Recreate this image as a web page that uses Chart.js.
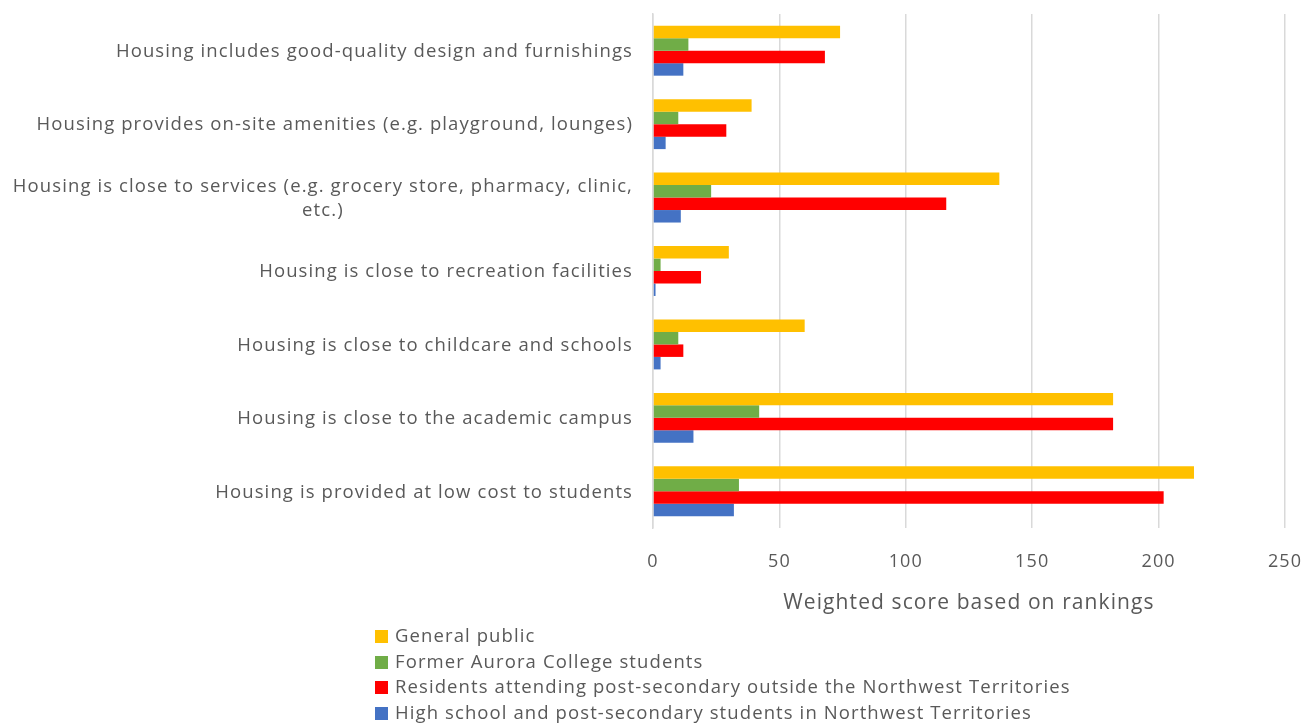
<!DOCTYPE html>
<html>
<head>
<meta charset="utf-8">
<script src="https://cdn.jsdelivr.net/npm/chart.js@4"></script>
<style>
  html, body { margin: 0; padding: 0; background: #fff; }
  #wrap { position: relative; width: 1316px; height: 723px; }
  #legend { position: absolute; left: 375px; top: 622px; font-family: "Open Sans", sans-serif; font-size: 18.5px; letter-spacing: 1.1px; color: #595959; }
  #legend div { height: 25.5px; line-height: 25.5px; white-space: nowrap; }
  #legend span { display: inline-block; width: 13px; height: 13px; margin-right: 7px; vertical-align: -1px; }
</style>
</head>
<body>
<div id="wrap">
  <canvas id="chart" width="1316" height="723"></canvas>
  <div id="legend"></div>
</div>
<script>
// Categories, top to bottom (multi-line labels as arrays)
const categories = [
  'Housing includes good-quality design and furnishings',
  'Housing provides on-site amenities (e.g. playground, lounges)',
  ['Housing is close to services (e.g. grocery store, pharmacy, clinic,', 'etc.)'],
  'Housing is close to recreation facilities',
  'Housing is close to childcare and schools',
  'Housing is close to the academic campus',
  'Housing is provided at low cost to students'
]

const seriesNames = [
  'General public',
  'Former Aurora College students',
  'Residents attending post-secondary outside the Northwest Territories',
  'High school and post-secondary students in Northwest Territories'
]

const generalPublic = [74, 39, 137, 30, 60, 182, 214]
const formerAurora = [14, 10, 23, 3, 10, 42, 34]
const residentsOutside = [68, 29, 116, 19, 12, 182, 202]
const highSchoolNwt = [12, 5, 11, 1, 3, 16, 32]

const xTicks = [0, 50, 100, 150, 200, 250]
const axisTitle = 'Weighted score based on rankings'

const colors = ['#FFC000', '#70AD47', '#FF0000', '#4472C4']
const textColor = '#595959'
const fontFamily = '"Open Sans", sans-serif'

// wider spacing like the original Office text
const spacing = {
  id: 'spacing',
  beforeDraw(chart) { chart.ctx.letterSpacing = '1.1px' }
}

// y labels: block right-aligned at the axis, lines centered inside the block
const categoryLabels = {
  id: 'categoryLabels',
  afterDraw(chart) {
    const { ctx, scales: { y }, chartArea } = chart
    ctx.save()
    ctx.letterSpacing = '1.1px'
    ctx.font = `18.5px ${fontFamily}`
    ctx.fillStyle = textColor
    ctx.textAlign = 'center'
    ctx.textBaseline = 'middle'
    const right = chartArea.left - 20
    const lineH = 24
    categories.forEach((label, i) => {
      const lines = Array.isArray(label) ? label : [label]
      const w = Math.max(...lines.map(l => ctx.measureText(l).width))
      const cx = right - w / 2
      const cy = y.getPixelForValue(i) + 1
      lines.forEach((l, j) => {
        ctx.fillText(l, cx, cy + (j - (lines.length - 1) / 2) * lineH)
      })
    })
    ctx.restore()
  }
}

const data = [generalPublic, formerAurora, residentsOutside, highSchoolNwt]

new Chart(document.getElementById('chart'), {
  type: 'bar',
  data: {
    labels: categories,
    datasets: seriesNames.map((name, i) => ({
      label: name,
      data: data[i],
      backgroundColor: colors[i],
      borderWidth: 0,
      barPercentage: 1,
      categoryPercentage: 0.68
    }))
  },
  options: {
    indexAxis: 'y',
    responsive: false,
    animation: false,
    layout: { padding: { top: 14, right: 31, bottom: 107, left: 0 } },
    plugins: {
      legend: { display: false },
      tooltip: { enabled: false }
    },
    scales: {
      x: {
        min: 0,
        max: 250,
        afterBuildTicks: s => { s.ticks = xTicks.map(v => ({ value: v })) },
        afterFit: s => { s.height = 88; s.paddingRight = 0; s.paddingLeft = 0 },
        grid: { color: '#d9d9d9', lineWidth: 1.5, drawTicks: false },
        border: { display: false },
        ticks: {
          color: textColor,
          padding: 23,
          font: { family: fontFamily, size: 18 }
        },
        title: {
          display: true,
          text: axisTitle,
          color: textColor,
          padding: { top: 0, bottom: 0 },
          font: { family: fontFamily, size: 21 }
        }
      },
      y: {
        afterFit: s => { s.width = 653 },
        grid: { display: false, drawTicks: false },
        border: { display: true, color: '#d9d9d9', width: 1.5 },
        ticks: { display: false }
      }
    }
  },
  plugins: [spacing, categoryLabels]
})

// HTML legend, one entry per line
const legend = document.getElementById('legend')
seriesNames.forEach((name, i) => {
  const row = document.createElement('div')
  const box = document.createElement('span')
  box.style.background = colors[i]
  row.appendChild(box)
  row.appendChild(document.createTextNode(name))
  legend.appendChild(row)
})
</script>
</body>
</html>
